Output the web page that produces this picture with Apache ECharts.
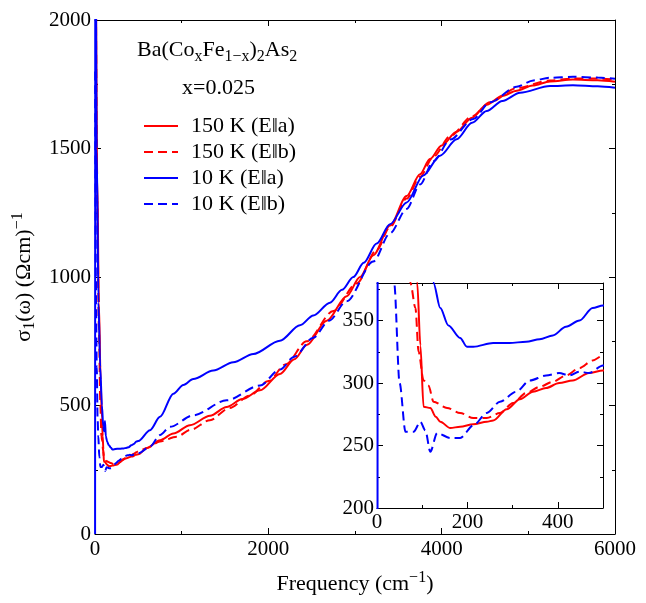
<!DOCTYPE html>
<html>
<head>
<meta charset="utf-8">
<script src="https://cdn.jsdelivr.net/npm/echarts@6/dist/echarts.min.js"></script>
<style>
  html, body { margin: 0; padding: 0; background: #fff; }
  #chart { width: 646px; height: 603px; }
</style>
</head>
<body>
<div id="chart"></div>
<script>
// 150 K, E||a
const red_a = [[8,2400],[25,1400],[45,900],[65,600],[80,450],[89,380],[96,330],[103,281],[118,280],[130,273],[140,269],[162,264],[184,265],[213,267],[243,269],[257,270],[287,279],[316,287],[345,293],[374,296],[403,300],[433,302],[469,308],[500,310],[600,335],[750,365],[904,391],[1096,423],[1327,460],[1519,494],[1700,525],[1904,559],[2134,623],[2300,680],[2442,735],[2673,830],[2904,925],[3058,1000],[3211,1085],[3404,1200],[3596,1315],[3750,1400],[3865,1459],[4000,1512],[4173,1565],[4350,1620],[4519,1670],[4700,1705],[4865,1725],[5050,1745],[5250,1761],[5515,1768],[5800,1766],[6000,1760]];
// 150 K, E||b
const red_b = [[8,2300],[25,1300],[45,800],[62,500],[74,380],[85,360],[92,325],[103,302],[114,298],[125,285],[155,280],[184,276],[213,272],[243,272],[272,276],[301,284],[330,292],[360,297],[389,301],[418,306],[448,312],[477,318],[500,322],[600,335],[750,360],[942,378],[1100,405],[1327,443],[1550,490],[1788,539],[2000,595],[2200,660],[2442,750],[2750,868],[3019,975],[3250,1105],[3404,1195],[3596,1305],[3750,1390],[3904,1468],[4100,1548],[4350,1625],[4558,1680],[4865,1735],[5250,1765],[5515,1772],[5800,1772],[6000,1768]];
// 10 K, E||a
const blue_a = [[1,0],[4,2600],[20,1500],[40,900],[60,650],[80,500],[95,420],[105,400],[115,440],[125,380],[140,360],[158,346],[184,336],[199,329],[213,329],[257,332],[293,332],[330,333],[360,335],[389,338],[418,345],[448,350],[477,360],[500,362],[635,404],[750,456],[904,546],[1019,580],[1134,603],[1365,636],[1596,668],[1827,700],[2134,752],[2365,812],[2519,850],[2711,900],[2850,950],[2981,1000],[3100,1055],[3250,1130],[3404,1205],[3596,1290],[3788,1395],[3981,1472],[4173,1536],[4350,1600],[4519,1646],[4700,1685],[4904,1717],[5250,1743],[5515,1746],[5800,1742],[6000,1736]];
// 10 K, E||b
const blue_b = [[2,1800],[10,1000],[20,650],[30,450],[38,380],[50,300],[63,261],[81,261],[96,269],[107,262],[118,245],[133,260],[162,256],[184,256],[213,266],[243,276],[272,285],[308,293],[338,302],[374,306],[403,308],[425,306],[448,309],[469,308],[500,314],[635,340],[750,385],[865,417],[1134,462],[1519,520],[1904,578],[2134,640],[2300,690],[2519,764],[2700,830],[2904,906],[3211,1060],[3404,1170],[3596,1265],[3750,1360],[3904,1450],[4100,1535],[4365,1615],[4558,1680],[4865,1740],[5058,1765],[5250,1775],[5515,1779],[5800,1776],[6000,1771]];

const names = ['150 K (E‖a)', '150 K (E‖b)', '10 K (E‖a)', '10 K (E‖b)'];
const curves = [red_a, red_b, blue_a, blue_b];
const colors = ['#ff0000', '#ff0000', '#0000ff', '#0000ff'];
const dashes = ['solid', [9, 5], 'solid', [9, 5]];

const FONT = "'Liberation Serif', 'Times New Roman', serif";
const TICK = 21;
const chart = echarts.init(document.getElementById('chart'));

function plain(v) { return String(v); }

function axisBase(extra) {
  return Object.assign({
    axisLine: { onZero: false, lineStyle: { color: '#000', width: 1 } },
    axisTick: { inside: true, length: 6, lineStyle: { color: '#000' } },
    minorTick: { show: true, splitNumber: 2, length: 3, lineStyle: { color: '#000' } },
    splitLine: { show: false },
    axisLabel: { fontFamily: FONT, fontSize: TICK, color: '#000', formatter: plain }
  }, extra);
}
function mirror(extra) {
  return axisBase(Object.assign({ axisLabel: { show: false } }, extra));
}

const series = [];
curves.forEach(function (d, i) {
  series.push({
    name: names[i], type: 'line', data: d, xAxisIndex: 0, yAxisIndex: 0,
    showSymbol: false, symbol: 'none', z: 2, clip: true,
    smooth: 0.3, smoothMonotone: 'x',
    lineStyle: { color: colors[i], width: 2, type: dashes[i] },
    itemStyle: { color: colors[i] }
  });
});
curves.forEach(function (d, i) {
  series.push({
    name: names[i], type: 'line', data: d, xAxisIndex: 2, yAxisIndex: 2,
    showSymbol: false, symbol: 'none', z: 12, zlevel: 1, clip: true,
    smooth: 0.3, smoothMonotone: 'x',
    lineStyle: { color: colors[i], width: 2, type: dashes[i] },
    itemStyle: { color: colors[i] }
  });
});

const option = {
  animation: false,
  backgroundColor: '#fff',
  textStyle: { fontFamily: FONT, color: '#000' },
  title: [
    {
      text: 'Ba(Co{sub|x}Fe{sub|1−x}){sub|2}As{sub|2}',
      left: 132, top: 30,
      textStyle: {
        fontFamily: FONT, fontSize: 22, fontWeight: 'normal', color: '#000', lineHeight: 30,
        rich: { sub: { fontFamily: FONT, fontSize: 16, lineHeight: 16, verticalAlign: 'bottom', color: '#000' } }
      }
    },
    {
      text: 'x=0.025', left: 177, top: 72,
      textStyle: { fontFamily: FONT, fontSize: 22, fontWeight: 'normal', color: '#000', lineHeight: 22 }
    }
  ],
  legend: {
    orient: 'vertical', left: 138, top: 110,
    itemWidth: 34, itemHeight: 14, itemGap: 4,
    data: names,
    itemStyle: { opacity: 0 },
    formatter: function (n) { return '{t|' + n + '}'; },
    textStyle: {
      fontFamily: FONT, fontSize: 22, color: '#000', lineHeight: 22,
      rich: { t: { fontFamily: FONT, fontSize: 22, color: '#000', lineHeight: 22, padding: [0, 0, 0, 8] } }
    }
  },
  grid: [
    { left: 95, right: 31, top: 20, bottom: 65 },
    { left: 377, right: 43, top: 283, bottom: 95, show: true, backgroundColor: '#fff', borderWidth: 0, z: 10, zlevel: 1 }
  ],
  xAxis: [
    axisBase({
      gridIndex: 0, type: 'value', min: 0, max: 6000, interval: 2000,
      name: 'Frequency (cm{sup|−1})', nameLocation: 'middle', nameGap: 36,
      nameTextStyle: {
        fontFamily: FONT, fontSize: 22, color: '#000', lineHeight: 28,
        rich: { sup: { fontFamily: FONT, fontSize: 16, lineHeight: 16, verticalAlign: 'top', color: '#000' } }
      },
      axisLabel: { fontFamily: FONT, fontSize: TICK, color: '#000', margin: 5, formatter: plain }
    }),
    mirror({ gridIndex: 0, type: 'value', position: 'top', min: 0, max: 6000, interval: 2000 }),
    axisBase({
      gridIndex: 1, type: 'value', min: 0, max: 500, interval: 200, z: 12, zlevel: 1,
      axisLabel: { fontFamily: FONT, fontSize: TICK, color: '#000', margin: 4, showMaxLabel: false, formatter: plain }
    }),
    mirror({ gridIndex: 1, type: 'value', position: 'top', min: 0, max: 500, interval: 200, z: 12, zlevel: 1 })
  ],
  yAxis: [
    axisBase({
      gridIndex: 0, type: 'value', min: 0, max: 2000, interval: 500,
      name: 'σ{sub|1}(ω) (Ωcm){sup|−1}', nameLocation: 'middle', nameGap: 50,
      nameTextStyle: {
        fontFamily: FONT, fontSize: 22, color: '#000', lineHeight: 28,
        rich: {
          sub: { fontFamily: FONT, fontSize: 16, lineHeight: 16, verticalAlign: 'bottom', color: '#000' },
          sup: { fontFamily: FONT, fontSize: 16, lineHeight: 16, verticalAlign: 'top', color: '#000' }
        }
      },
      axisLabel: { fontFamily: FONT, fontSize: TICK, color: '#000', margin: 4, formatter: plain }
    }),
    mirror({ gridIndex: 0, type: 'value', position: 'right', min: 0, max: 2000, interval: 500 }),
    axisBase({
      gridIndex: 1, type: 'value', min: 200, max: 380, interval: 50, z: 12, zlevel: 1,
      axisLabel: { fontFamily: FONT, fontSize: TICK, color: '#000', margin: 3, showMaxLabel: false, formatter: plain }
    }),
    mirror({ gridIndex: 1, type: 'value', position: 'right', min: 200, max: 380, interval: 50, z: 12, zlevel: 1 })
  ],
  series: series
};
chart.setOption(option);
</script>
</body>
</html>
